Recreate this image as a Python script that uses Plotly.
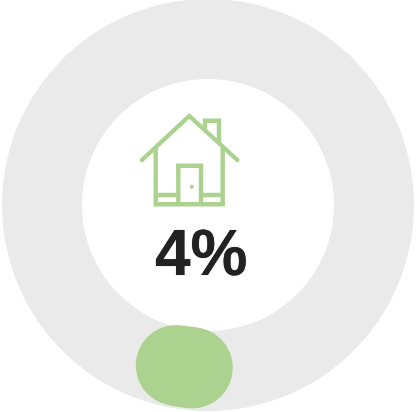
import math
import plotly.graph_objects as go

# Data
share_pct = [4, 96]
label_text = "4%"
ring_color = "#eaeaea"
accent = "#abd28f"
# visible rounded blob: angular span (degrees from the bottom, clockwise)
arc_angles = [5.5, 7.5, 9.5, 11.2]

W, H = 419, 412
CX, CY = 208, 205
R_OUT, R_IN = 206, 126
R_MID = 163.5
R_RING = (R_OUT + R_IN) / 2


def ring_point(radius, deg):
    return (CX - radius * math.sin(math.radians(deg)), CY + radius * math.cos(math.radians(deg)))


ring_pts = [ring_point(R_RING, d) for d in range(40, 410, 2)]
arc_pts = [ring_point(R_MID, a) for a in arc_angles]

fig = go.Figure()
fig.add_trace(go.Scatter(x=[p[0] for p in ring_pts], y=[p[1] for p in ring_pts], mode="lines",
                         line=dict(color=ring_color, width=R_OUT - R_IN, simplify=False),
                         hoverinfo="skip", showlegend=False, cliponaxis=False))
fig.add_trace(go.Scatter(x=[p[0] for p in arc_pts], y=[p[1] for p in arc_pts], mode="lines",
                         line=dict(color=accent, width=81, simplify=False),
                         hoverinfo="skip", showlegend=False, cliponaxis=False))
fig.add_trace(go.Scatter(x=[arc_pts[0][0], arc_pts[-1][0]], y=[arc_pts[0][1], arc_pts[-1][1]], mode="markers",
                         marker=dict(color=accent, size=81, line=dict(width=0)),
                         hoverinfo="skip", showlegend=False, cliponaxis=False))

stroke = dict(color=accent, width=4.4)
paths = [
    "M142,160 L189.3,116 L237.3,160",
    "M155.7,147 L155.7,204.3 L222.7,204.3 L222.7,147",
    "M155.7,195 L178.3,195 M201,195 L222.7,195",
    "M178.3,204.3 L178.3,165.7 L201,165.7 L201,204.3",
    "M205,128.5 L205,120.7 L219,120.7 L219,142",
]
shapes = [dict(type="path", path=p, xref="x", yref="y", line=stroke, layer="above") for p in paths]
for ex, ey, rad in [(142, 160, 2.2), (237.3, 160, 2.2), (191.7, 186.7, 2)]:
    shapes.append(dict(type="circle", xref="x", yref="y", x0=ex - rad, x1=ex + rad, y0=ey - rad, y1=ey + rad,
                       fillcolor=accent, line=dict(width=0), layer="above"))

fig.update_layout(
    width=W, height=H, margin=dict(l=0, r=0, t=0, b=0),
    paper_bgcolor="white", plot_bgcolor="rgba(0,0,0,0)", showlegend=False,
    xaxis=dict(range=[0, W], visible=False, fixedrange=True),
    yaxis=dict(range=[H, 0], visible=False, fixedrange=True),
    shapes=shapes,
    annotations=[dict(text=f"<b>{label_text}</b>", x=201.5, y=253, xref="x", yref="y", showarrow=False,
                      font=dict(family="Liberation Sans", size=64, color="#222222",
                                shadow="0 0 0.7px #222222"))],
)
fig.write_html("out.html", config=dict(displayModeBar=False),
               post_script="document.body.style.margin='0';document.body.style.overflow='hidden';")
